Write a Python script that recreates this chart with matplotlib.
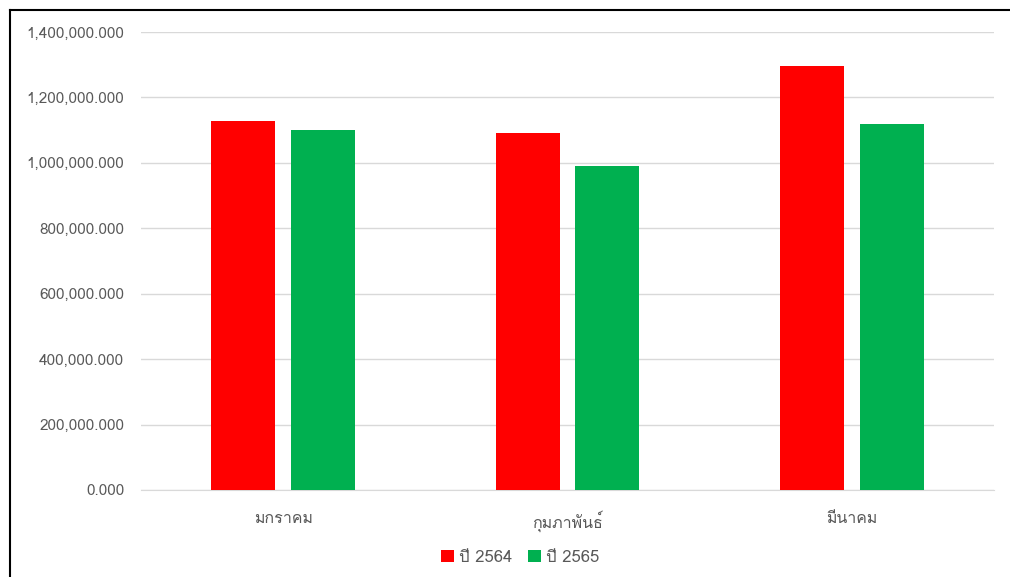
import numpy as np
import matplotlib
matplotlib.use("Agg")
import matplotlib.pyplot as plt
from matplotlib import font_manager
from matplotlib.ft2font import FT2Font
from matplotlib.ticker import FuncFormatter

months = ["มกราคม", "กุมภาพันธ์", "มีนาคม"]
series_names = ["ปี 2564", "ปี 2565"]
y2564 = [1128000, 1091000, 1296000]
y2565 = [1100000, 989500, 1119000]
yticks = [0, 200000, 400000, 600000, 800000, 1000000, 1200000, 1400000]


def find_thai_font():
    # look for any installed font that has Thai glyphs
    seen = set()
    for f in font_manager.fontManager.ttflist:
        if f.name in seen:
            continue
        seen.add(f.name)
        try:
            cmap = FT2Font(f.fname).get_charmap()
        except Exception:
            continue
        if 0x0E01 in cmap and 0x0E21 in cmap:
            return f.name
    return None


thai = find_thai_font()
families = ([thai] if thai else []) + ["DejaVu Sans"]
plt.rcParams["font.family"] = families

fig = plt.figure(figsize=(10.1, 5.77), dpi=100)
ax = fig.add_axes([0.1396, 0.1508, 0.8446, 0.7938])

x = np.arange(len(months))
w = 0.225
ax.bar(x - 0.14, y2564, w, color="#FF0000", label=series_names[0], zorder=3)
ax.bar(x + 0.14, y2565, w, color="#00B050", label=series_names[1], zorder=3)

ax.set_xlim(-0.5, 2.5)
ax.set_ylim(0, 1400000)
ax.set_yticks(yticks)
ax.yaxis.set_major_formatter(FuncFormatter(lambda v, p: f"{v:,.3f}"))
ax.grid(axis="y", color="#D9D9D9", linewidth=1, zorder=0)
ax.set_xticks(x)
ax.set_xticklabels(months)
for s in ["top", "right", "left"]:
    ax.spines[s].set_visible(False)
ax.spines["bottom"].set_color("#D9D9D9")
ax.tick_params(axis="both", length=0, colors="#595959")
ax.tick_params(axis="y", pad=12, labelsize=11)
ax.tick_params(axis="x", pad=15, labelsize=11.5)

fig.legend(loc="center", bbox_to_anchor=(0.515, 0.033), ncol=2, frameon=False,
           handlelength=0.75, handleheight=0.75, handletextpad=0.3, columnspacing=1.0,
           fontsize=12, labelcolor="#595959")

# outer chart frame (left + top edges visible)
fig.add_artist(plt.Line2D([0.0099, 0.0099], [0, 0.983], color="black", lw=1.5,
                          transform=fig.transFigure))
fig.add_artist(plt.Line2D([0.0099, 1.0], [0.983, 0.983], color="black", lw=1.5,
                          transform=fig.transFigure))

fig.savefig("out.png", dpi=100)
